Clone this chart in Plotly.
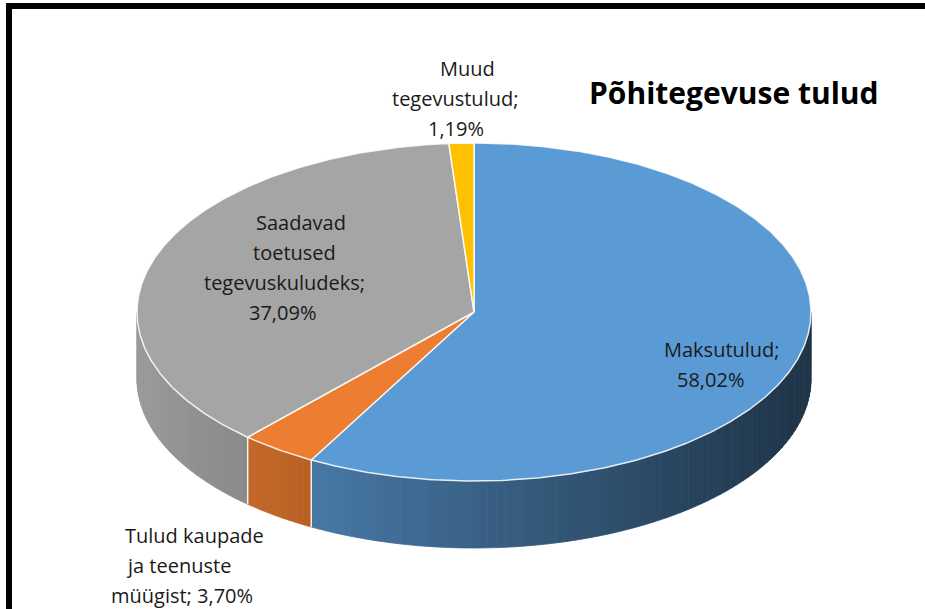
import numpy as np
import plotly.graph_objects as go

# ---- data ----
categories = ["Maksutulud", "Tulud kaupade ja teenuste müügist",
              "Saadavad toetused tegevuskuludeks", "Muud tegevustulud"]
values = [58.02, 3.70, 37.09, 1.19]
label_texts = ["Maksutulud;<br>58,02%",
               "Tulud kaupade<br>ja teenuste<br>müügist; 3,70%",
               "Saadavad<br>toetused<br>tegevuskuludeks;<br>37,09%",
               "Muud<br>tegevustulud;<br>1,19%"]
colors = ["#5b9bd5", "#ed7d31", "#a5a5a5", "#ffc000"]
title_text = "Põhitegevuse tulud"

# ---- geometry of the tilted pie (pixel space) ----
W, H = 925, 609
cx, cy, rx, ry, depth = 474, 312, 337, 169, 67
FONT = "'Open Sans', Lato, sans-serif"


def pt(theta_deg, dy=0.0):
    t = np.radians(theta_deg)
    return cx + rx * np.sin(t), cy - ry * np.cos(t) + dy


def hex_rgb(h):
    h = h.lstrip("#")
    return [int(h[i:i + 2], 16) for i in (0, 2, 4)]


def shade(hexcol, theta_deg):
    m = 0.63 - 0.30 * np.sin(np.radians(theta_deg))
    r, g, b = [max(0, min(255, int(round(c * m)))) for c in hex_rgb(hexcol)]
    return f"rgb({r},{g},{b})"


total = sum(values)
bounds = np.concatenate([[0], np.cumsum(values) / total * 360.0])

fig = go.Figure()

# side walls (front half only)
for i, col in enumerate(colors):
    a0, a1 = bounds[i], bounds[i + 1]
    s0, s1 = max(a0, 90), min(a1, 270)
    if s1 <= s0:
        continue
    n = max(1, int(np.ceil((s1 - s0) / 1.5)))
    edges = np.linspace(s0, s1, n + 1)
    for j in range(n):
        ts = np.linspace(edges[j], edges[j + 1], 4)
        xt, yt = pt(ts)
        xb, yb = pt(ts[::-1], depth)
        xs = np.concatenate([xt, xb, xt[:1]])
        ys = np.concatenate([yt, yb, yt[:1]])
        c = shade(col, (edges[j] + edges[j + 1]) / 2)
        fig.add_trace(go.Scatter(x=xs, y=ys, mode="lines", fill="toself",
                                 fillcolor=c, line=dict(color=c, width=0.8),
                                 hoverinfo="skip", showlegend=False))

# white separators on the side wall
for b in bounds:
    if 90 < b < 270:
        x0, y0 = pt(b)
        x1, y1 = pt(b, depth)
        fig.add_trace(go.Scatter(x=[x0, x1], y=[y0, y1], mode="lines",
                                 line=dict(color="rgba(255,255,255,0.9)", width=1.5),
                                 hoverinfo="skip", showlegend=False))

# top faces
for i, col in enumerate(colors):
    a0, a1 = bounds[i], bounds[i + 1]
    ts = np.linspace(a0, a1, max(3, int((a1 - a0) * 2)))
    xa, ya = pt(ts)
    xs = np.concatenate([[cx], xa, [cx]])
    ys = np.concatenate([[cy], ya, [cy]])
    fig.add_trace(go.Scatter(x=xs, y=ys, mode="lines", fill="toself",
                             fillcolor=col,
                             line=dict(color="rgba(255,255,255,0.85)", width=1.5),
                             hoverinfo="skip", showlegend=False,
                             name=categories[i]))

# labels: one annotation per line (centre x of each line, y of first line)
label_lines_x = [[722, 710], [194, 178, 182], [301, 294, 284, 282], [467, 455, 456]]
label_y0 = [349, 535, 222, 68]
line_step = 30
for txt, xs_l, y0 in zip(label_texts, label_lines_x, label_y0):
    for k, (line, lx) in enumerate(zip(txt.split("<br>"), xs_l)):
        fig.add_annotation(x=lx, y=y0 + k * line_step, xref="x", yref="y", text=line,
                           showarrow=False, align="center",
                           font=dict(family=FONT, size=20, color="#1a1a1a"))

fig.add_annotation(x=734, y=92, xref="x", yref="y", text=f"<b>{title_text}</b>",
                   showarrow=False, font=dict(family=FONT, size=30, color="#000000"))

# chart frame
fig.add_shape(type="rect", xref="x", yref="y", x0=9, y0=6, x1=W + 30, y1=H + 30,
              line=dict(color="black", width=6), fillcolor="rgba(0,0,0,0)", layer="above")

fig.update_layout(
    width=W, height=H, autosize=False,
    margin=dict(l=0, r=0, t=0, b=0),
    paper_bgcolor="white", plot_bgcolor="white",
    xaxis=dict(range=[0, W], visible=False, fixedrange=True),
    yaxis=dict(range=[H, 0], visible=False, fixedrange=True),
    showlegend=False,
)

fig.write_html("out.html", config={"displayModeBar": False},
               post_script="document.body.style.margin='0';document.body.style.overflow='hidden';")
